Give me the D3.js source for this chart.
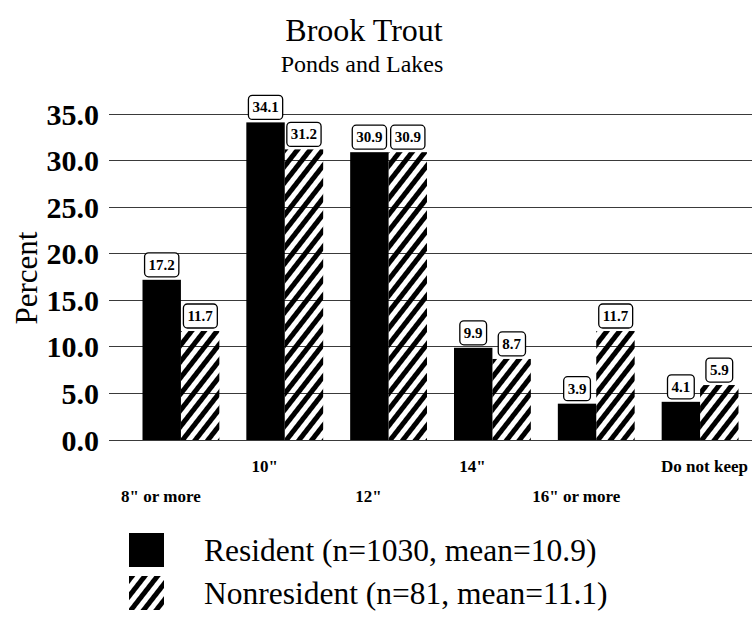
<!DOCTYPE html>
<meta charset="utf-8">
<head>
  <title>Brook Trout - Ponds and Lakes</title>
</head>
<style>
  body { margin: 0; background: #fff; }
  svg { display: block; }
  text { font-family: "Liberation Serif", "Times New Roman", serif; fill: #000; }
  .grid line { stroke: #3a3a3a; stroke-width: 1; shape-rendering: crispEdges; }
  .tick-label { font-size: 30px; font-weight: bold; }
  .xlabel { font-size: 17px; font-weight: bold; }
  .vlabel { font-size: 15px; font-weight: bold; }
  .vbox { fill: #fff; stroke: #000; stroke-width: 1.3px; }
  .legend-text { font-size: 31.5px; }
</style>
<body>
<script src="https://cdn.jsdelivr.net/npm/d3@7"></script>
<script>
// data
var categories = ['8" or more', '10"', '12"', '14"', '16" or more', 'Do not keep'];
var resident = [17.2, 34.1, 30.9, 9.9, 3.9, 4.1];
var nonresident = [11.7, 31.2, 30.9, 8.7, 11.7, 5.9];
var yTicks = [0, 5, 10, 15, 20, 25, 30, 35];
var seriesKeys = ['resident', 'nonresident'];
var seriesNames = ['Resident (n=1030, mean=10.9)', 'Nonresident (n=81, mean=11.1)'];

var width = 753, height = 627;

var svg = d3.select("body").append("svg")
    .attr("width", width)
    .attr("height", height);

// hatch pattern for nonresident
var defs = svg.append("defs");
defs.append("pattern")
    .attr("id", "hatch")
    .attr("patternUnits", "userSpaceOnUse")
    .attr("width", 10)
    .attr("height", 10)
    .attr("patternTransform", "rotate(38)")
  .append("rect")
    .attr("x", 0).attr("y", 0)
    .attr("width", 5).attr("height", 10)
    .attr("fill", "#000");

// scales
var y = d3.scaleLinear().domain([0, 35]).range([440, 114]);
var x0 = d3.scaleBand().domain(categories).range([129, 752])
    .paddingInner(0.26).paddingOuter(0.13);
var x1 = d3.scaleBand().domain(seriesKeys).range([0, x0.bandwidth()]);

var rows = categories.map(function(c, i) {
  return {cat: c, i: i, resident: resident[i], nonresident: nonresident[i]};
});

// titles
svg.append("text")
    .attr("x", 364).attr("y", 41)
    .attr("text-anchor", "middle")
    .style("font-size", "32px")
    .text("Brook Trout");
svg.append("text")
    .attr("x", 362).attr("y", 72)
    .attr("text-anchor", "middle")
    .style("font-size", "24px")
    .text("Ponds and Lakes");

// gridlines
svg.append("g").attr("class", "grid")
  .selectAll("line")
  .data(yTicks)
  .enter().append("line")
    .attr("x1", 109).attr("x2", 752)
    .attr("y1", function(d) { return y(d); })
    .attr("y2", function(d) { return y(d); });

// tick labels
svg.append("g")
  .selectAll("text")
  .data(yTicks)
  .enter().append("text")
    .attr("class", "tick-label")
    .attr("x", 99)
    .attr("y", function(d) { return y(d); })
    .attr("dy", "0.35em")
    .attr("text-anchor", "end")
    .text(function(d) { return d3.format(".1f")(d); });

// y-axis title
svg.append("text")
    .attr("transform", "translate(37,278) rotate(-90)")
    .attr("text-anchor", "middle")
    .style("font-size", "31px")
    .text("Percent");

// bars
var groups = svg.append("g")
  .selectAll("g")
  .data(rows)
  .enter().append("g")
    .attr("transform", function(d) { return "translate(" + x0(d.cat) + ",0)"; });

groups.selectAll("rect")
  .data(function(d) { return seriesKeys.map(function(k) { return {key: k, value: d[k]}; }); })
  .enter().append("rect")
    .attr("x", function(d) { return x1(d.key); })
    .attr("y", function(d) { return y(d.value); })
    .attr("width", x1.bandwidth())
    .attr("height", function(d) { return y(0) - y(d.value); })
    .attr("fill", function(d) { return d.key === 'resident' ? "#000" : "url(#hatch)"; });

// value labels in rounded boxes
var vl = groups.selectAll(".vl")
  .data(function(d) { return seriesKeys.map(function(k) { return {key: k, value: d[k]}; }); })
  .enter().append("g")
    .attr("class", "vl")
    .attr("transform", function(d) {
      return "translate(" + (x1(d.key) + x1.bandwidth() / 2) + "," + (y(d.value) - 3) + ")";
    });

vl.append("text")
    .attr("class", "vlabel")
    .attr("text-anchor", "middle")
    .attr("y", -7)
    .text(function(d) { return d3.format(".1f")(d.value); });

vl.insert("rect", "text")
    .attr("class", "vbox")
    .attr("rx", 4).attr("ry", 4)
    .each(function() {
      var t = d3.select(this.parentNode).select("text").node().getBBox();
      d3.select(this)
        .attr("x", t.x - 4).attr("y", -24)
        .attr("width", t.width + 8).attr("height", 24);
    });

// category labels, staggered on two rows
svg.append("g")
  .selectAll("text")
  .data(rows)
  .enter().append("text")
    .attr("class", "xlabel")
    .attr("text-anchor", "middle")
    .attr("x", function(d) { return x0(d.cat) + x0.bandwidth() / 2 - 20; })
    .attr("y", function(d) { return d.i % 2 === 0 ? 502 : 472; })
    .text(function(d) { return d.cat; })
    .each(function(d) {
      // last label sits against the right edge
      if (d.i === categories.length - 1) {
        d3.select(this).attr("text-anchor", "end").attr("x", 748);
      }
    });

// legend
var legend = svg.append("g")
  .selectAll("g")
  .data(seriesKeys)
  .enter().append("g")
    .attr("transform", function(d, i) { return "translate(129," + (533 + i * 43) + ")"; });

legend.append("rect")
    .attr("width", 35).attr("height", 34)
    .attr("fill", function(d) { return d === 'resident' ? "#000" : "url(#hatch)"; });

legend.append("text")
    .attr("class", "legend-text")
    .attr("x", 75)
    .attr("y", 28)
    .text(function(d, i) { return seriesNames[i]; });
</script>
</body>
